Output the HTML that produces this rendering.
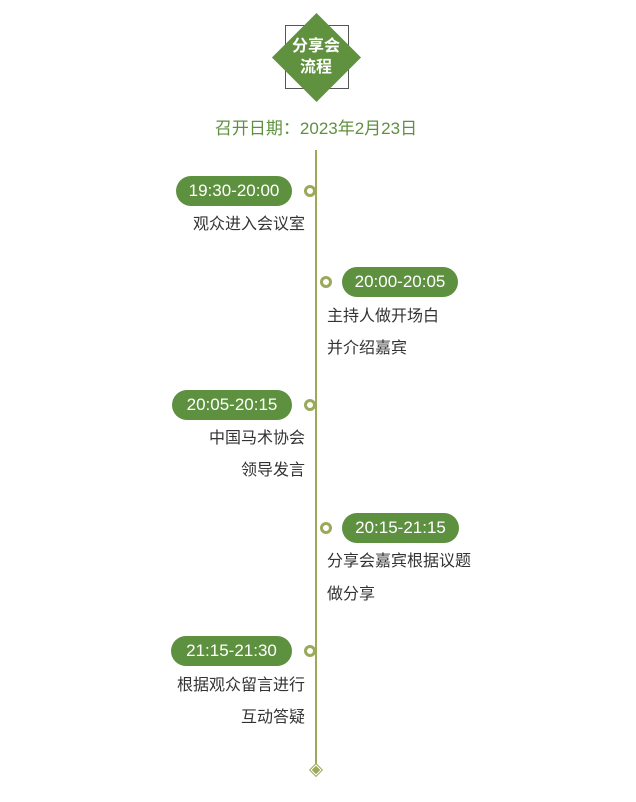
<!DOCTYPE html>
<html><head><meta charset="utf-8"><style>
body{margin:0;width:636px;height:802px;background:#fff;position:relative;overflow:hidden;font-family:"Liberation Sans","Noto Sans CJK SC",sans-serif;}
.a{position:absolute;}
.pill{position:absolute;height:30px;border-radius:15px;background:#5e913f;color:#fff;font-size:17px;line-height:30px;text-align:center;}
.t{position:absolute;font-size:16px;color:#333;line-height:20px;white-space:nowrap;}
.l{right:331px;text-align:right;}
.r{left:327px;}
.dot{position:absolute;width:6px;height:6px;border:3px solid #9aa95a;border-radius:50%;background:#fff;}
</style></head><body>
<div class="a" style="left:285px;top:25px;width:62px;height:62px;border:1px solid #555;"></div>
<div class="a" style="left:285px;top:26px;width:63px;height:63px;background:#5f913f;transform:rotate(45deg);"></div>
<div class="a" style="left:276px;top:36px;width:80px;text-align:center;color:#fff;font-size:16px;line-height:21px;font-weight:bold;">分享会<br>流程</div>
<div class="a" style="left:0;width:632px;top:114px;text-align:center;color:#5e913f;font-size:17px;">召开日期：2023年2月23日</div>
<div class="a" style="left:315px;top:150px;width:2px;height:614px;background:#9aa95a;"></div>
<div class="a" style="left:311px;top:765px;width:8px;height:8px;border:1px solid #9aa95a;transform:rotate(45deg);background:#fff;"></div>
<div class="a" style="left:313px;top:767px;width:6px;height:6px;background:#9aa95a;transform:rotate(45deg);"></div>

<div class="pill" style="left:176px;top:176px;width:116px;">19:30-20:00</div>
<div class="dot" style="left:304px;top:185px;"></div>
<div class="t l" style="top:215px;">观众进入会议室</div>

<div class="pill" style="left:342px;top:267px;width:116px;">20:00-20:05</div>
<div class="dot" style="left:320px;top:276px;"></div>
<div class="t r" style="top:307px;">主持人做开场白</div>
<div class="t r" style="top:339px;">并介绍嘉宾</div>

<div class="pill" style="left:172px;top:390px;width:120px;">20:05-20:15</div>
<div class="dot" style="left:304px;top:399px;"></div>
<div class="t l" style="top:429px;">中国马术协会</div>
<div class="t l" style="top:461px;">领导发言</div>

<div class="pill" style="left:342px;top:513px;width:117px;">20:15-21:15</div>
<div class="dot" style="left:320px;top:522px;"></div>
<div class="t r" style="top:552px;">分享会嘉宾根据议题</div>
<div class="t r" style="top:585px;">做分享</div>

<div class="pill" style="left:171px;top:636px;width:121px;">21:15-21:30</div>
<div class="dot" style="left:304px;top:645px;"></div>
<div class="t l" style="top:676px;">根据观众留言进行</div>
<div class="t l" style="top:708px;">互动答疑</div>
</body></html>
